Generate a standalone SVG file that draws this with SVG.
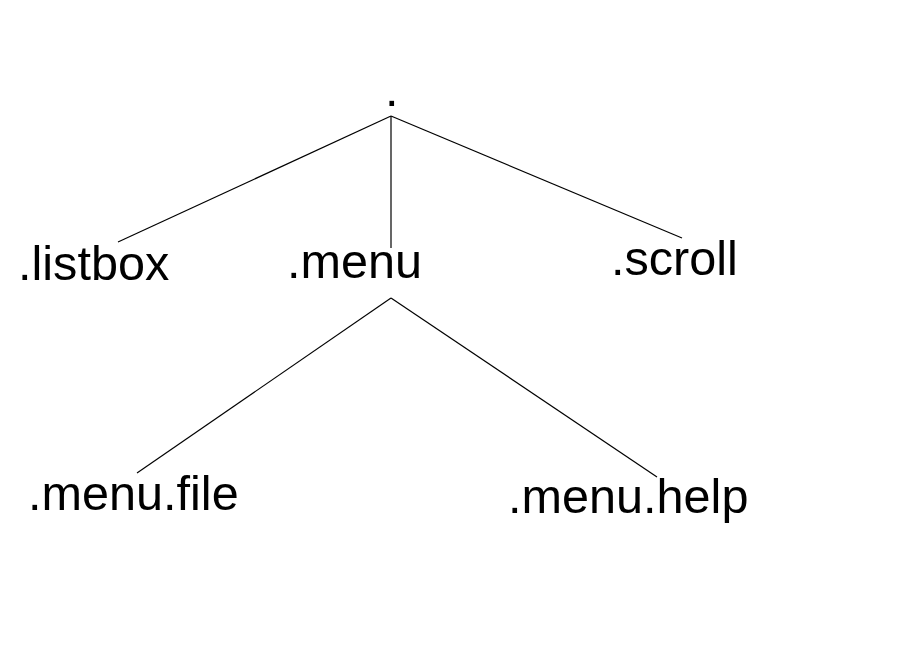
<svg xmlns="http://www.w3.org/2000/svg" width="919" height="672" viewBox="0 0 919 672">
<style>
.lbl{font-family:"Liberation Sans",Arial,sans-serif;font-size:48.6px;fill:#000}
.con line{stroke:#000;stroke-width:1.2}
</style>
<rect width="919" height="672" fill="#fff"/>
<g id="connectors" class="con">
<line x1="391" y1="116" x2="118" y2="242"/>
<line x1="391" y1="116" x2="391" y2="248"/>
<line x1="391" y1="116" x2="682" y2="238"/>
<line x1="391" y1="298" x2="137" y2="473"/>
<line x1="391" y1="298" x2="657" y2="477"/>
</g>
<g id="root"><text class="lbl" x="385" y="105.5">.</text></g>
<g id="listbox"><text class="lbl" x="18" y="280">.listbox</text></g>
<g id="menu"><text class="lbl" x="287" y="278">.menu</text></g>
<g id="scroll"><text class="lbl" x="611" y="275">.scroll</text></g>
<g id="menu-file"><text class="lbl" x="28" y="510">.menu.file</text></g>
<g id="menu-help"><text class="lbl" x="508" y="513">.menu.help</text></g>
</svg>
